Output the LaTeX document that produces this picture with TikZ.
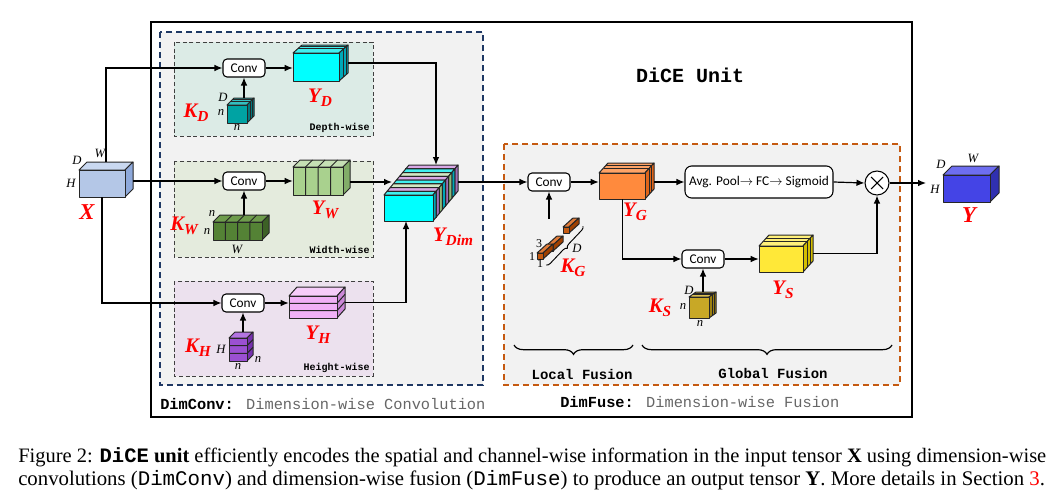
\documentclass[tikz,border=0pt]{standalone}
\usepackage{fontspec}
\usepackage{graphicx}
\setmainfont{Liberation Serif}
\setsansfont{Carlito}
\newfontfamily\monof{Liberation Mono}
\usetikzlibrary{arrows.meta,fit,decorations.pathreplacing,calc}
\definecolor{navyb}{HTML}{1F3864}
\definecolor{rustb}{HTML}{C55A11}
\definecolor{panelg}{HTML}{F2F2F2}
\definecolor{depthbg}{HTML}{DCEBE6}
\definecolor{widthbg}{HTML}{E4EBDD}
\definecolor{heightbg}{HTML}{ECE1EE}
\definecolor{xf}{HTML}{B4C7E7}\definecolor{xt}{HTML}{C9D8F0}\definecolor{xs}{HTML}{8EA9DB}
\definecolor{yf}{HTML}{4444E6}\definecolor{yt}{HTML}{6E6EF0}\definecolor{ys}{HTML}{3030B0}
\definecolor{ydf}{HTML}{00FFFF}\definecolor{ydt}{HTML}{40F0F0}\definecolor{yds}{HTML}{00A8B8}
\definecolor{kdf}{HTML}{00A3A3}\definecolor{kdt}{HTML}{33BFBF}\definecolor{kds}{HTML}{007A80}
\definecolor{ywf}{HTML}{A9D18E}\definecolor{ywt}{HTML}{C5E0B4}\definecolor{yws}{HTML}{82AD68}
\definecolor{kwf}{HTML}{548235}\definecolor{kwt}{HTML}{6E9C4C}\definecolor{kws}{HTML}{3D6126}
\definecolor{yhf}{HTML}{F0B0F6}\definecolor{yht}{HTML}{F6CCF9}\definecolor{yhs}{HTML}{CC88D8}
\definecolor{khf}{HTML}{9B50D2}\definecolor{kht}{HTML}{B374E2}\definecolor{khs}{HTML}{7630AE}
\definecolor{ygf}{HTML}{FF8A3D}\definecolor{ygt}{HTML}{FFA366}\definecolor{ygs}{HTML}{E0651A}
\definecolor{ysf}{HTML}{FFE838}\definecolor{yst}{HTML}{FFF07A}\definecolor{yss}{HTML}{D4BE00}
\definecolor{ksf}{HTML}{C8A826}\definecolor{kst}{HTML}{DCC052}\definecolor{kss}{HTML}{9C8010}
\definecolor{kgf}{HTML}{C55A11}\definecolor{kgt}{HTML}{E07B39}\definecolor{kgs}{HTML}{A04000}
\definecolor{dimc-f}{HTML}{00FFFF}\definecolor{dimc-t}{HTML}{40F0F0}\definecolor{dimc-s}{HTML}{00A8B8}
\definecolor{dimp-f}{HTML}{CC99DD}\definecolor{dimp-t}{HTML}{D9A8E6}\definecolor{dimp-s}{HTML}{A070B8}
\definecolor{dimg-f}{HTML}{C5E0B4}\definecolor{dimg-t}{HTML}{D2E8C4}\definecolor{dimg-s}{HTML}{90B878}
\newcommand{\cube}[8]{%
  \filldraw[cubeline, fill=#8t] (#2,#3) -- ({#2+#6},{#3-#7}) -- ({#4+#6},{#3-#7}) -- (#4,#3) -- cycle;
  \filldraw[cubeline, fill=#8s] (#4,#3) -- ({#4+#6},{#3-#7}) -- ({#4+#6},{#5-#7}) -- (#4,#5) -- cycle;
  \filldraw[cubeline, fill=#8f] (#2,#3) rectangle (#4,#5);
  \coordinate (#1-nw) at (#2,{#3-#7});
  \coordinate (#1-se) at ({#4+#6},#5);
  \node[fit=(#1-nw)(#1-se), inner sep=0pt] (#1) {};
}
\newcommand{\dsl}[7]{\draw[cubeline] ({#1+#7*#5},{#2-#7*#6}) -- ({#3+#7*#5},{#2-#7*#6}) -- ({#3+#7*#5},{#4-#7*#6});}
\newcommand{\vsl}[7]{\foreach \k in {1,...,#7}{\ifnum\k<#7 \pgfmathsetmacro\xx{#1+\k*(#3-#1)/#7}\draw[cubeline] (\xx,#4) -- (\xx,#2) -- ({\xx+#5},{#2-#6});\fi}}
\newcommand{\hsl}[7]{\foreach \k in {1,...,#7}{\ifnum\k<#7 \pgfmathsetmacro\yy{#2+\k*(#4-#2)/#7}\draw[cubeline] (#1,\yy) -- (#3,\yy) -- ({#3+#5},{\yy-#6});\fi}}
\newcommand{\rl}[2]{#1\raisebox{-0.45ex}{\fontsize{11.5}{11.5}\selectfont #2}}
\tikzset{
  cubeline/.style={draw=black!85, line width=0.75pt, line join=round},
  conn/.style={line width=0.9pt, -{Latex[length=6pt,width=5pt]}},
  plainline/.style={line width=0.9pt},
  convbox/.style={draw, line width=0.8pt, rounded corners=3pt, fill=white, font=\sffamily\fontsize{10}{12}\selectfont, minimum width=31.5pt, minimum height=13.5pt, inner sep=0pt},
  dimlab/.style={font=\itshape\fontsize{9.5}{10}\selectfont, inner sep=0pt},
  redlab/.style={text=red, font=\bfseries\itshape\fontsize{15.5}{15.5}\selectfont, inner sep=0pt},
  subbox/.style={draw=black!75, dash pattern=on 3pt off 2pt, line width=0.7pt},
  wiselab/.style={font=\monof\bfseries\fontsize{7.5}{8}\selectfont, anchor=south east, inner sep=1.5pt},
  bigdash/.style={dash pattern=on 4.5pt off 3pt, line width=1.7pt},
  bracestyle/.style={decorate, line width=0.9pt},
}
\begin{document}
\begin{tikzpicture}[x=0.75pt,y=-0.75pt]
\useasboundingbox (0,0) rectangle (1062,493);
% outer frame and panels
\draw[line width=2pt] (151,22) rectangle (912,417);
\filldraw[bigdash, draw=navyb, fill=panelg] (160,32) rectangle (483,385);
\filldraw[bigdash, draw=rustb, fill=panelg] (504,144) rectangle (900,385);
\filldraw[subbox, fill=depthbg] (174,42) rectangle (373,136);
\filldraw[subbox, fill=widthbg] (174,161) rectangle (373,257);
\filldraw[subbox, fill=heightbg] (174,281) rectangle (373,376);
\node[wiselab] (wD) at (372,135) {Depth-wise};
\node[wiselab] (wW) at (372,256) {Width-wise};
\node[wiselab] (wH) at (372,375) {Height-wise};
\node[font=\monof\bfseries\fontsize{15}{15}\selectfont] (title) at (690,75) {DiCE Unit};
\node[anchor=base west, inner sep=0pt, font=\monof\fontsize{11.5}{12}\selectfont] (dcl) at (160,409) {\textbf{DimConv:} \textcolor{black!60}{Dimension-wise Convolution}};
\node[anchor=base west, inner sep=0pt, font=\monof\fontsize{11.5}{12}\selectfont] (dfl) at (560,407) {\textbf{DimFuse:} \textcolor{black!60}{Dimension-wise Fusion}};
% input X
\cube{X}{79}{170}{125}{197}{8}{8}{x}
\node[dimlab] (xD) at (77,160) {D};
\node[dimlab] (xW) at (100,153) {W};
\node[dimlab] (xH) at (71,183) {H};
\node[redlab, font=\bfseries\itshape\fontsize{17}{17}\selectfont] (xl) at (87,212) {X};
% output Y
\cube{Y}{943}{175}{990}{202}{9}{9}{y}
\node[dimlab] (yD) at (941,164) {D};
\node[dimlab] (yW) at (973,158) {W};
\node[dimlab] (yH) at (935,189) {H};
\node[redlab, font=\bfseries\itshape\fontsize{17}{17}\selectfont] (yl) at (969,215) {Y};
% depth-wise
\node[convbox] (cD) at (244,68) {Conv};
\cube{YD}{293}{53}{339}{81}{9}{8}{yd}
\dsl{293}{53}{339}{81}{9}{8}{0.55}
\dsl{293}{53}{339}{81}{9}{8}{0.78}
\node[redlab] (ydl) at (320,98) {\rl{Y}{D}};
\cube{KD}{227}{105}{247}{123}{7}{7}{kd}
\dsl{227}{105}{247}{123}{7}{7}{0.5}
\dsl{227}{105}{247}{123}{7}{7}{0.75}
\node[redlab] (kdl) at (196,113) {\rl{K}{D}};
\node[dimlab] (kdD) at (223,97) {D};
\node[dimlab] (kdn1) at (221,113) {n};
\node[dimlab] (kdn2) at (237,128) {n};
% width-wise
\node[convbox] (cW) at (244,181) {Conv};
\cube{YW}{293}{167}{343}{195}{7}{7}{yw}
\vsl{293}{167}{343}{195}{7}{7}{4}
\node[redlab] (ywl) at (325,210) {\rl{Y}{W}};
\cube{KW}{213}{222}{262}{240}{7}{7}{kw}
\vsl{213}{222}{262}{240}{7}{7}{4}
\node[redlab] (kwl) at (184,226) {\rl{K}{W}};
\node[dimlab] (kwn1) at (212,214) {n};
\node[dimlab] (kwn2) at (207,232) {n};
\node[dimlab] (kwW) at (237,249) {W};
% height-wise
\node[convbox] (cH) at (243,303) {Conv};
\cube{YH}{289}{296}{337}{318}{8}{9}{yh}
\hsl{289}{296}{337}{318}{8}{9}{3}
\node[redlab] (yhl) at (318,335) {\rl{Y}{H}};
\cube{KH}{229}{338}{247}{361}{6}{6}{kh}
\hsl{229}{338}{247}{361}{6}{6}{3}
\node[redlab] (khl) at (198,348) {\rl{K}{H}};
\node[dimlab] (khH) at (221,349) {H};
\node[dimlab] (khn1) at (238,367) {n};
\node[dimlab] (khn2) at (258,360) {n};
% Y_Dim stack
\foreach \i/\cc in {7/p,6/c,5/g,4/p,3/c,2/g,1/p,0/c}{
  \pgfmathsetmacro\ox{384+\i*25/8}
  \pgfmathsetmacro\oy{195-\i*30/8}
  \pgfmathsetmacro\ex{\ox+49}
  \pgfmathsetmacro\ey{\oy+26}
  \filldraw[cubeline, fill=dim\cc-t] (\ox,\oy) -- ({\ox+25/8},{\oy-30/8}) -- ({\ex+25/8},{\oy-30/8}) -- (\ex,\oy) -- cycle;
  \filldraw[cubeline, fill=dim\cc-s] (\ex,\oy) -- ({\ex+25/8},{\oy-30/8}) -- ({\ex+25/8},{\ey-30/8}) -- (\ex,\ey) -- cycle;
  \filldraw[cubeline, fill=dim\cc-f] (\ox,\oy) rectangle (\ex,\ey);
}
\coordinate (YDim-nw) at (384,165);
\coordinate (YDim-se) at (458,221);
\node[fit=(YDim-nw)(YDim-se), inner sep=0pt] (YDim) {};
\coordinate (YDimT) at (436,165);
\coordinate (YDimL) at (392,182);
\coordinate (YDimB) at (406,221);
\node[redlab] (ydiml) at (453,237) {\rl{Y}{Dim}};
% DimFuse
\node[convbox] (cG) at (549,182) {Conv};
\cube{YG}{599}{173}{645}{199}{9}{10}{yg}
\dsl{599}{173}{645}{199}{9}{10}{0.5}
\dsl{599}{173}{645}{199}{9}{10}{0.75}
\node[redlab] (ygl) at (635,212) {\rl{Y}{G}};
\cube{KG3}{563}{227}{569}{233}{10}{9}{kg}
\cube{KG2}{547}{245}{553}{251}{10}{9}{kg}
\cube{KG1}{537}{253}{543}{259}{10}{9}{kg}
\coordinate (KGtop) at (549,219);
\draw[bracestyle, decoration={brace, amplitude=3pt, mirror}, line width=0.7pt] (546,265) -- (583,226);
\node[dimlab, font=\fontsize{9}{9}\selectfont] (kg3) at (539,244) {3};
\node[dimlab, font=\fontsize{9}{9}\selectfont] (kg1a) at (532,257) {1};
\node[dimlab, font=\fontsize{9}{9}\selectfont] (kg1b) at (540,264) {1};
\node[dimlab] (kgD) at (577,248) {D};
\node[redlab] (kgl) at (573,268) {\rl{K}{G}};
\node[draw, line width=0.8pt, rounded corners=5pt, fill=white, minimum width=111pt, minimum height=24pt, inner sep=0pt, font=\sffamily\fontsize{10}{12}\selectfont] (pool) at (759,182) {Avg. Pool$\rightarrow$ FC$\rightarrow$ Sigmoid};
\node[draw, circle, line width=0.8pt, fill=white, minimum size=18pt, inner sep=0pt] (mult) at (877,183) {};
\draw[line width=0.8pt] ($(mult.center)+(-6,-6)$) -- ($(mult.center)+(6,6)$);
\draw[line width=0.8pt] ($(mult.center)+(-6,6)$) -- ($(mult.center)+(6,-6)$);
\coordinate (Yin) at (926,183);
\node[convbox] (cS) at (703,259) {Conv};
\cube{YS}{759}{246}{803}{272}{10}{11}{ys}
\dsl{759}{246}{803}{272}{10}{11}{0.45}
\dsl{759}{246}{803}{272}{10}{11}{0.72}
\node[redlab] (ysl) at (783,290) {\rl{Y}{S}};
\cube{KS}{689}{297}{709}{318}{7}{5}{ks}
\dsl{689}{297}{709}{318}{7}{5}{0.5}
\dsl{689}{297}{709}{318}{7}{5}{0.75}
\node[redlab] (ksl) at (660,308) {\rl{K}{S}};
\node[dimlab] (ksD) at (689,290) {D};
\node[dimlab] (ksn1) at (683,307) {n};
\node[dimlab] (ksn2) at (700,324) {n};
% braces
\draw[bracestyle, decoration={brace, amplitude=7pt, mirror}] (514,345) -- (633,345);
\draw[bracestyle, decoration={brace, amplitude=7pt, mirror}] (642,345) -- (892,345);
\node[font=\monof\bfseries\fontsize{10.5}{11}\selectfont] (lf) at (582,374) {Local Fusion};
\node[font=\monof\bfseries\fontsize{10.5}{11}\selectfont] (gf) at (773,373) {Global Fusion};
% connectors
\draw[conn] (X.north) |- (cD.west);
\draw[conn] (cW.west -| X.east) -- (cW.west);
\draw[conn] ([xshift=-3pt]X.south) |- (cH.west);
\draw[conn] (cD.east) -- (cD.east -| YD.west);
\draw[conn] (cW.east) -- (cW.east -| YW.west);
\draw[conn] (cH.east) -- (cH.east -| YH.west);
\draw[conn] (KD.north -| cD.south) -- (cD.south);
\draw[conn] (KW.north -| cW.south) -- (cW.south);
\draw[conn] (KH.north -| cH.south) -- (cH.south);
\draw[conn] (YD.east) -| (YDimT);
\draw[conn] (YDimL -| YW.east) -- (YDimL);
\draw[conn] (YH.east) -| (YDimB);
\draw[conn] (cG.west -| YDim.east) -- (cG.west);
\draw[conn] (KGtop) -- (cG.south);
\draw[conn] (cG.east) -- (cG.east -| YG.west);
\draw[conn] (pool.west -| YG.east) -- (pool.west);
\draw[conn] (pool.east) -- (mult.west);
\draw[conn] (mult.east) -- (Yin);
\draw[conn] ([xshift=-3pt]YG.south) |- (cS.west);
\draw[conn] (cS.east) -- (cS.east -| YS.west);
\draw[conn] (KS.north -| cS.south) -- (cS.south);
\draw[conn] (YS.east) -| (mult.south);
% caption
\node[anchor=base west, inner sep=0pt] (cap1) at (18,462) {\resizebox{771pt}{!}{\fontsize{12}{14}\selectfont Figure 2: {\monof\bfseries DiCE} \textbf{unit} efficiently encodes the spatial and channel-wise information in the input tensor \textbf{X} using dimension-wise}};
\node[anchor=base west, inner sep=0pt] (cap2) at (18,485) {\resizebox{770pt}{!}{\fontsize{12}{14}\selectfont convolutions ({\monof DimConv}) and dimension-wise fusion ({\monof DimFuse}) to produce an output tensor \textbf{Y}. More details in Section \textcolor{red}{3}.}};
\end{tikzpicture}
\end{document}
